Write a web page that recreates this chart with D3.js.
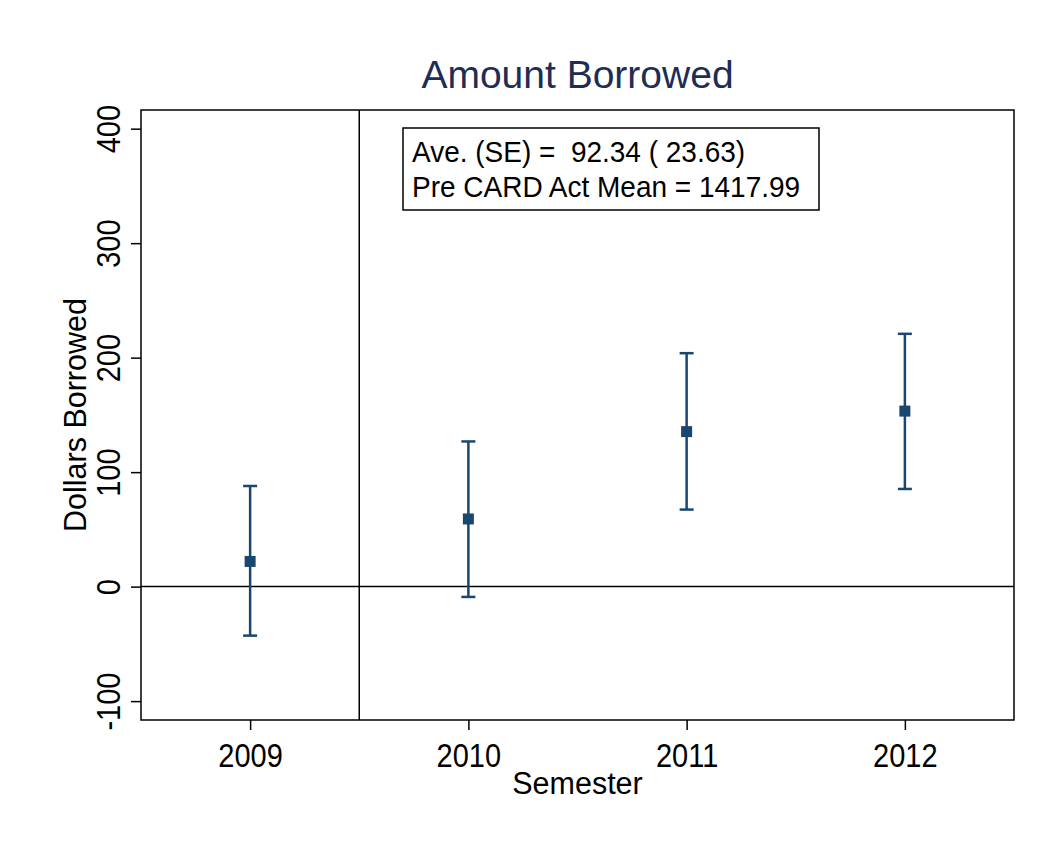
<!DOCTYPE html>
<html><head><meta charset="utf-8">
<script src="https://cdn.jsdelivr.net/npm/d3@7"></script>
<style>body{margin:0;background:#fff}svg{display:block}text{font-family:"Liberation Sans",Arial,sans-serif}</style>
</head><body>
<script>
const years = [2009, 2010, 2011, 2012];
const estimates = [22.0, 59.1, 135.4, 153.3];
const ciLow = [-42.8, -9.0, 67.3, 85.3];
const ciHigh = [87.9, 126.8, 203.9, 220.8];
const yTicks = [-100, 0, 100, 200, 300, 400];
const boxLines = ["Ave. (SE) =  92.34 ( 23.63)", "Pre CARD Act Mean = 1417.99"];
const titleText = "Amount Borrowed";
const xTitle = "Semester";
const yTitle = "Dollars Borrowed";

const W = 1063, H = 850;
const L = 141, R = 1014, T = 110, B = 720;
const col = "#1a476f";
const stretch = 1.15;

const svg = d3.select("body").append("svg").attr("width", W).attr("height", H);
svg.append("rect").attr("width", W).attr("height", H).attr("fill", "#fff");

const x = d3.scaleLinear().domain([2008.5, 2012.5]).range([L, R]);
const y = d3.scaleLinear().domain([-116.5, 416.3]).range([B, T]);

// axes
const yAxis = d3.axisLeft(y).tickValues(yTicks).tickSize(10).tickFormat(d => String(d));
const gy = svg.append("g").attr("transform", `translate(${L},0)`).call(yAxis);
gy.select(".domain").remove();
gy.selectAll(".tick line").attr("stroke", "#000").attr("stroke-width", 1.5);
gy.selectAll(".tick text").attr("x", null).attr("dy", null).attr("y", 0)
  .attr("text-anchor", "middle").attr("font-size", 29).attr("fill", "#000")
  .attr("transform", `translate(-21.5,0) rotate(-90) scale(1,${stretch})`);

const xAxis = d3.axisBottom(x).tickValues(years).tickSize(10).tickFormat(d => String(d));
const gx = svg.append("g").attr("transform", `translate(0,${B})`).call(xAxis);
gx.select(".domain").remove();
gx.selectAll(".tick line").attr("stroke", "#000").attr("stroke-width", 1.5);
gx.selectAll(".tick text").attr("font-size", 29).attr("fill", "#000").attr("dy", null).attr("y", 0)
  .attr("transform", `translate(0,46.5) scale(1,${stretch})`);

// reference lines
svg.append("line").attr("x1", L).attr("x2", R).attr("y1", y(0)).attr("y2", y(0)).attr("stroke", "#000").attr("stroke-width", 1.5);
svg.append("line").attr("x1", x(2009.5)).attr("x2", x(2009.5)).attr("y1", T).attr("y2", B).attr("stroke", "#000").attr("stroke-width", 1.5);

// frame
svg.append("rect").attr("x", L).attr("y", T).attr("width", R - L).attr("height", B - T)
  .attr("fill", "none").attr("stroke", "#000").attr("stroke-width", 1.5);

// error bars
const data = years.map((yr, i) => ({yr, est: estimates[i], lo: ciLow[i], hi: ciHigh[i]}));
const g = svg.append("g");
g.selectAll(".v").data(data).join("line")
  .attr("x1", d => x(d.yr)).attr("x2", d => x(d.yr))
  .attr("y1", d => y(d.lo)).attr("y2", d => y(d.hi))
  .attr("stroke", col).attr("stroke-width", 2.5);
["lo", "hi"].forEach(k => {
  g.selectAll(".c" + k).data(data).join("line")
    .attr("x1", d => x(d.yr) - 7).attr("x2", d => x(d.yr) + 7)
    .attr("y1", d => y(d[k])).attr("y2", d => y(d[k]))
    .attr("stroke", col).attr("stroke-width", 2.5);
});
g.selectAll("rect").data(data).join("rect")
  .attr("x", d => x(d.yr) - 5.5).attr("y", d => y(d.est) - 5.5)
  .attr("width", 11).attr("height", 11).attr("fill", col);

// info box
svg.append("rect").attr("x", 403).attr("y", 128).attr("width", 416).attr("height", 82)
  .attr("fill", "#fff").attr("stroke", "#000").attr("stroke-width", 1.5);
svg.selectAll(".bl").data(boxLines).join("text")
  .attr("transform", (d, i) => `translate(412,${162 + i * 35}) scale(1,1.08)`)
  .attr("font-size", 28).attr("fill", "#000").attr("xml:space", "preserve")
  .style("white-space", "pre").text(d => d);

// titles
svg.append("text").attr("x", (L + R) / 2).attr("y", 88).attr("text-anchor", "middle")
  .attr("font-size", 39).attr("fill", "#1e2d55").text(titleText);
svg.append("text").attr("transform", `translate(${(L + R) / 2},794) scale(1,1.03)`).attr("text-anchor", "middle")
  .attr("font-size", 30.5).attr("fill", "#000").text(xTitle);
svg.append("text").attr("transform", `translate(86,${(T + B) / 2}) rotate(-90) scale(1,1.03)`).attr("text-anchor", "middle")
  .attr("font-size", 30.5).attr("fill", "#000").text(yTitle);
</script>
</body></html>
